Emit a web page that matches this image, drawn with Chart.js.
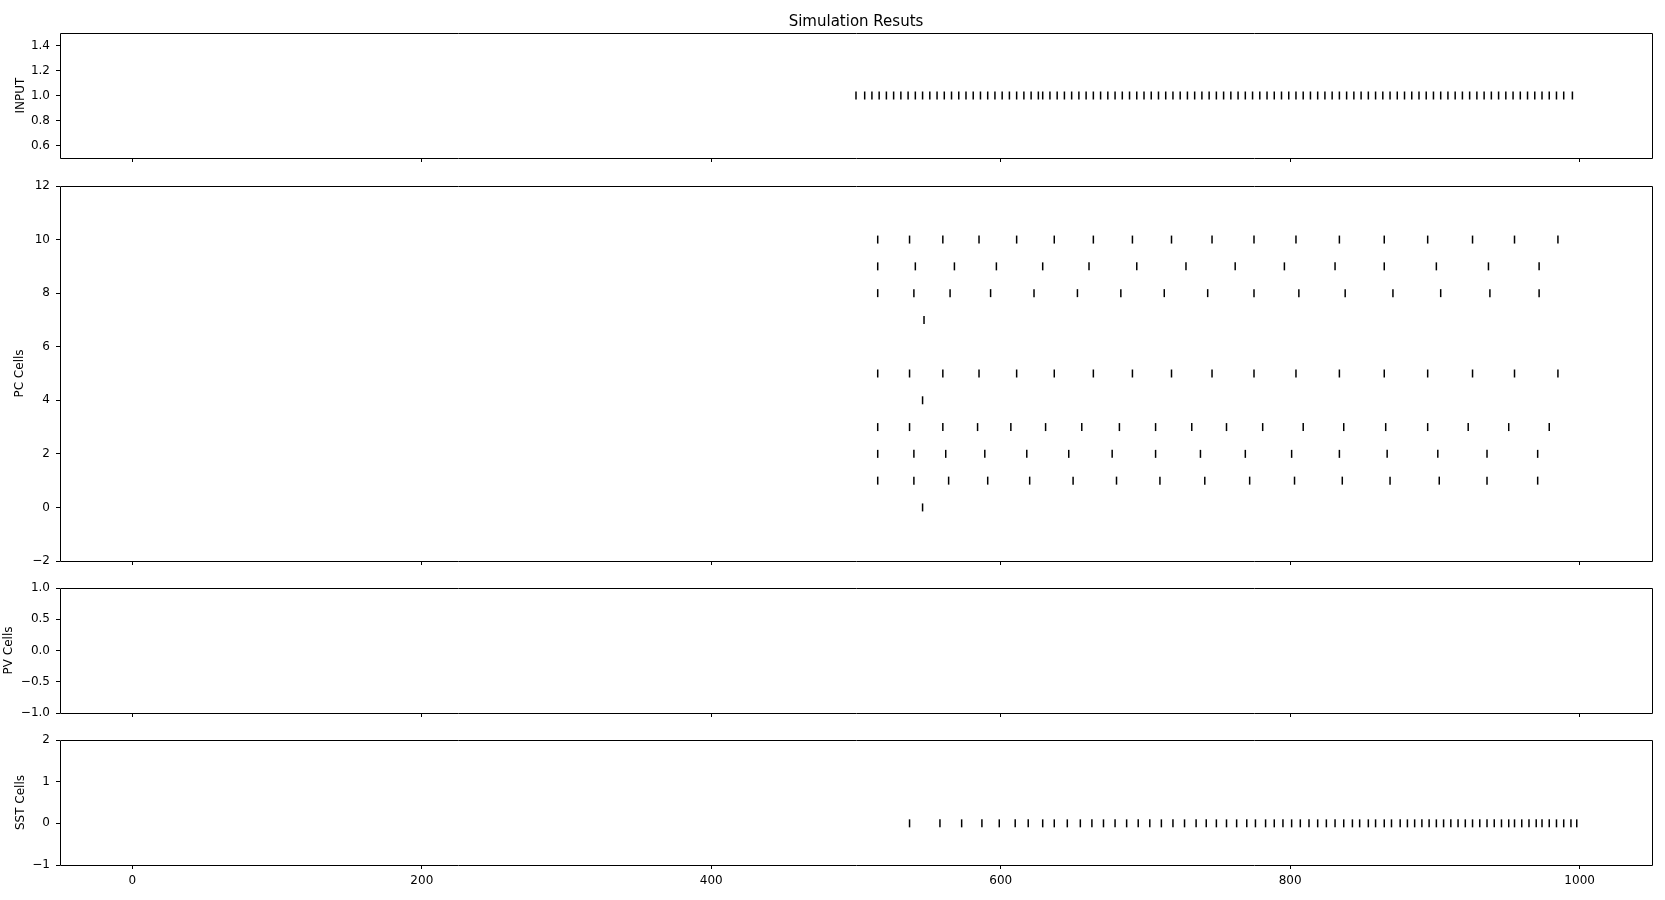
<!DOCTYPE html>
<html><head><meta charset="utf-8">
<script src="https://cdn.jsdelivr.net/npm/chart.js@4.4.1/dist/chart.umd.min.js"></script>
<style>
html,body{margin:0;padding:0;background:#fff;}
body{width:1665px;height:900px;position:relative;overflow:hidden;}
.p{position:absolute;left:0;width:1665px;}
</style></head><body>
<div class="p" style="top:0px;height:172px"><canvas id="c0"></canvas></div>
<div class="p" style="top:172px;height:403px"><canvas id="c1"></canvas></div>
<div class="p" style="top:574px;height:153px"><canvas id="c2"></canvas></div>
<div class="p" style="top:726px;height:169px"><canvas id="c3"></canvas></div>
<script>
// ---- data ----
const chartTitle = 'Simulation Resuts';
const xTicks = [0, 200, 400, 600, 800, 1000];

const inputTimes = [500,506,511,516,521,526,531,536,541,546,551,556,561,566,571,576,581,586,591,596,601,606,611,616,621,626,629,634,639,644,649,654,659,664,669,674,679,684,689,694,699,704,709,714,719,724,729,734,739,744,749,754,759,764,769,774,779,784,789,794,799,804,809,814,819,824,829,834,839,844,849,854,859,864,869,874,879,884,889,894,899,904,909,914,919,924,929,934,939,944,949,954,959,964,969,974,979,984,989,995];

const pc0 = [546];
const pc1 = [515,540,564,591,620,650,680,710,741,772,803,836,869,903,936,971];
const pc2 = [515,540,562,589,618,647,677,707,738,769,801,834,867,902,936,971];
const pc3 = [515,537,560,584,607,631,656,682,707,732,756,781,809,837,866,895,923,951,979];
const pc4 = [546];
const pc5 = [515,537,560,585,611,637,664,691,718,746,775,804,834,865,895,926,955,985];
const pc6 = [];
const pc7 = [547];
const pc8 = [515,540,565,593,623,653,683,713,743,775,806,838,871,904,938,972];
const pc9 = [515,541,568,597,629,661,694,728,762,796,831,865,901,937,972];
const pc10 = [515,537,560,585,611,637,664,691,718,746,775,804,834,865,895,926,955,985];
const pcRows = [pc0,pc1,pc2,pc3,pc4,pc5,pc6,pc7,pc8,pc9,pc10];

const pvRows = [];

const sstTimes = [537,558,573,587,599,610,619,629,637,646,655,663,671,679,687,695,703,711,719,727,735,742,749,756,763,770,776,783,789,795,801,807,813,819,825,831,837,843,848,854,859,865,870,876,881,886,891,896,901,906,911,916,921,926,931,936,941,946,951,955,960,965,970,974,979,984,989,994,998];

const inputTicks = [0.6, 0.8, 1.0, 1.2, 1.4];
const inputTickLabels = ['0.6','0.8','1.0','1.2','1.4'];
const pcTicks = [-2, 0, 2, 4, 6, 8, 10, 12];
const pcTickLabels = ['\u22122','0','2','4','6','8','10','12'];
const pvTicks = [-1, -0.5, 0, 0.5, 1];
const pvTickLabels = ['\u22121.0','\u22120.5','0.0','0.5','1.0'];
const sstTicks = [-1, 0, 1, 2];
const sstTickLabels = ['\u22121','0','1','2'];

// ---- rendering ----
const FONT = 'DejaVu Sans';
const frame = {
  id: 'frame',
  afterDraw(chart) {
    const {ctx, chartArea: a} = chart;
    const l = Math.round(a.left) + 0.5, r = Math.round(a.right) + 0.5;
    const t = Math.round(a.top) + 0.5, b = Math.round(a.bottom) + 0.5;
    ctx.save();
    ctx.strokeStyle = '#000';
    ctx.lineWidth = 1;
    ctx.beginPath();
    ctx.moveTo(l, t); ctx.lineTo(r, t); ctx.lineTo(r, b); ctx.lineTo(l, b); ctx.closePath();
    ctx.stroke();
    ctx.restore();
  }
};

function rowsToPoints(rows) {
  const pts = [];
  rows.forEach((times, i) => times.forEach(t => pts.push({x: t, y: i})));
  return pts;
}
function timesToPoints(times, yv) { return times.map(t => ({x: t, y: yv})); }

function makeChart(id, cfg) {
  const xh = cfg.showX ? 30 : 14;
  new Chart(document.getElementById(id), {
    type: 'scatter',
    data: { datasets: [{
      data: cfg.points,
      pointStyle: 'line', rotation: 90, radius: 4, hoverRadius: 4,
      borderWidth: 1.5, borderColor: '#000', backgroundColor: '#000'
    }]},
    options: {
      responsive: true, maintainAspectRatio: false, animation: false,
      devicePixelRatio: 1,
      layout: { padding: { top: cfg.title ? 0 : 14, right: 13, bottom: 0, left: 0 } },
      plugins: {
        legend: { display: false }, tooltip: { enabled: false },
        title: cfg.title ? {
          display: true, text: cfg.title, fullSize: false, color: '#000',
          font: { family: FONT, size: 15, weight: 'normal' },
          padding: { top: 13.4, bottom: 1.6 }
        } : { display: false }
      },
      scales: {
        x: {
          type: 'linear', min: -50, max: 1050,
          afterBuildTicks: s => { s.ticks = xTicks.map(v => ({value: v})); },
          afterFit: s => { s.height = xh; },
          grid: { drawOnChartArea: false, drawTicks: true, tickLength: 4, color: '#000', lineWidth: 1 },
          border: { display: false },
          ticks: { display: cfg.showX, color: '#000', padding: 5, maxRotation: 0,
                   font: { family: FONT, size: 12 },
                   callback: (v, i) => String(xTicks[i]) }
        },
        y: {
          type: 'linear', min: cfg.yMin, max: cfg.yMax,
          afterBuildTicks: s => { s.ticks = cfg.yTicks.map(v => ({value: v})); },
          afterFit: s => { s.width = 60; },
          grid: { drawOnChartArea: false, drawTicks: true, tickLength: 4, color: '#000', lineWidth: 1 },
          border: { display: false },
          ticks: { color: '#000', padding: 6, autoSkip: false,
                   font: { family: FONT, size: 12 },
                   callback: (v, i) => cfg.yLabels[i] },
          title: { display: true, text: cfg.label, color: '#000',
                   font: { family: FONT, size: 12 },
                   padding: { top: cfg.labelPad, bottom: 0 } }
        }
      }
    },
    plugins: [frame]
  });
}

makeChart('c0', { title: chartTitle, showX: false, yMin: 0.5, yMax: 1.5,
  yTicks: inputTicks, yLabels: inputTickLabels, label: 'INPUT', labelPad: 13.8,
  points: timesToPoints(inputTimes, 1) });
makeChart('c1', { showX: false, yMin: -2, yMax: 12,
  yTicks: pcTicks, yLabels: pcTickLabels, label: 'PC Cells', labelPad: 13,
  points: rowsToPoints(pcRows) });
makeChart('c2', { showX: false, yMin: -1, yMax: 1,
  yTicks: pvTicks, yLabels: pvTickLabels, label: 'PV Cells', labelPad: 1.3,
  points: rowsToPoints(pvRows) });
makeChart('c3', { showX: true, yMin: -1, yMax: 2,
  yTicks: sstTicks, yLabels: sstTickLabels, label: 'SST Cells', labelPad: 13.3,
  points: timesToPoints(sstTimes, 0) });
</script>
</body></html>
